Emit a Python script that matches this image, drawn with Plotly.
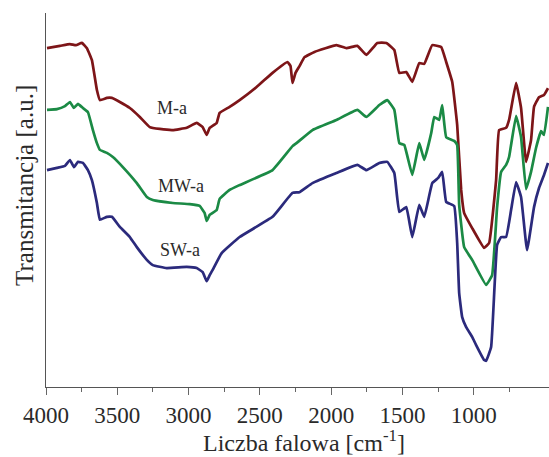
import plotly.graph_objects as go

# ---- data (wavenumber in cm-1, transmittance in a.u.) ----
wn_ma = [3993, 3902, 3832, 3790, 3748, 3713, 3678, 3643, 3622, 3573, 3538, 3482, 3412, 3342, 3272, 3202,
         3111, 3013, 2943, 2901, 2873, 2852, 2803, 2782, 2712, 2642, 2523, 2411, 2306, 2285, 2271, 2250,
         2222, 2187, 2117, 1963, 1893, 1816, 1753, 1676, 1613, 1557, 1522, 1473, 1431, 1382, 1347, 1291,
         1228, 1193, 1151, 1116, 1088, 1067, 1011, 927, 892, 843, 822, 773, 752, 703, 668, 633, 598, 577,
         542, 507, 479]
t_ma = [90.6, 91.2, 91.7, 91.4, 92.0, 90.6, 87.4, 79.4, 76.7, 77.3, 77.3, 76.2, 74.6, 72.2, 69.5, 69.0,
        68.7, 69.3, 70.6, 69.5, 67.4, 69.3, 70.6, 73.3, 74.9, 76.7, 80.2, 84.0, 86.9, 85.8, 81.3, 84.0,
        85.8, 88.2, 89.6, 91.4, 90.6, 91.2, 88.8, 92.0, 92.0, 90.1, 84.0, 84.2, 81.6, 86.6, 86.4, 91.4,
        90.9, 86.9, 81.6, 70.1, 52.7, 46.5, 42.5, 37.2, 38.5, 55.3, 68.7, 69.3, 71.4, 81.3, 74.6, 60.2,
        66.0, 74.9, 77.5, 78.1, 79.9]

wn_mw = [3993, 3923, 3867, 3832, 3804, 3776, 3741, 3706, 3671, 3643, 3622, 3573, 3531, 3461, 3363, 3293,
         3251, 3111, 2992, 2922, 2887, 2873, 2852, 2803, 2782, 2712, 2642, 2411, 2271, 2243, 2131, 1963,
         1816, 1753, 1662, 1606, 1557, 1522, 1487, 1431, 1382, 1347, 1298, 1277, 1242, 1221, 1193, 1137,
         1116, 1102, 1067, 1011, 913, 871, 836, 808, 773, 752, 703, 668, 633, 598, 563, 528, 507, 479]
t_mw = [74.1, 74.3, 75.1, 76.2, 74.6, 75.7, 74.6, 73.5, 68.7, 65.2, 63.4, 62.6, 61.5, 58.8, 54.5, 50.8,
        50.0, 49.2, 48.9, 48.4, 46.5, 44.4, 46.0, 47.3, 50.3, 52.7, 54.0, 58.0, 64.4, 65.2, 68.7, 71.4,
        74.1, 72.2, 75.4, 76.7, 74.1, 65.2, 64.7, 56.7, 65.2, 60.7, 67.9, 72.2, 71.4, 75.4, 66.8, 65.8,
        64.7, 48.7, 37.4, 34.0, 27.3, 29.9, 48.1, 57.5, 59.4, 61.5, 72.5, 66.8, 52.9, 57.5, 63.9, 68.4,
        67.4, 74.9]

wn_sw = [3993, 3923, 3867, 3832, 3804, 3776, 3741, 3706, 3678, 3643, 3622, 3573, 3538, 3482, 3412, 3363,
         3293, 3251, 3153, 3013, 2943, 2901, 2873, 2852, 2831, 2768, 2642, 2411, 2271, 2222, 2131, 1963,
         1816, 1753, 1662, 1606, 1557, 1522, 1473, 1431, 1382, 1347, 1291, 1249, 1221, 1193, 1137, 1116,
         1102, 1081, 1053, 1011, 983, 927, 913, 878, 836, 808, 773, 738, 703, 668, 626, 577, 542, 507, 479]
t_sw = [58.0, 58.6, 59.1, 60.7, 58.8, 60.2, 59.9, 58.0, 55.3, 49.2, 44.7, 45.5, 45.5, 42.8, 40.1, 37.4,
        34.0, 32.6, 31.8, 32.1, 31.8, 30.7, 28.3, 29.9, 31.3, 35.8, 40.1, 45.5, 51.9, 52.1, 54.5, 57.2,
        59.4, 58.0, 59.9, 60.2, 57.2, 46.8, 48.1, 40.1, 48.7, 45.5, 54.5, 55.9, 57.5, 49.5, 48.4, 38.5,
        25.1, 18.7, 16.0, 13.4, 11.2, 7.2, 7.0, 10.7, 38.0, 40.1, 40.1, 47.3, 54.8, 50.8, 36.6, 48.1,
        53.2, 56.7, 59.9]

series_names = ["M-a", "MW-a", "SW-a"]
label_wn = [3118, 3055, 3062]
label_t = [74.6, 53.7, 36.6]

major_ticks = [4000, 3500, 3000, 2500, 2000, 1500, 1000]
minor_ticks = [3750, 3250, 2750, 2250, 1750, 1250, 750]

colors = ["#7d1518", "#1b8a45", "#2b2a7c"]
FONT = "Liberation Serif"
TXT = "#2a2a2a"

fig = go.Figure()
for name, xs, ys, c in zip(series_names, [wn_ma, wn_mw, wn_sw], [t_ma, t_mw, t_sw], colors):
    fig.add_trace(go.Scatter(x=xs, y=ys, mode="lines", name=name,
                             line=dict(color=c, width=2.7, shape="spline", smoothing=0.3)))

for name, lx, ly in zip(series_names, label_wn, label_t):
    fig.add_annotation(x=lx, y=ly, text=name, showarrow=False,
                       font=dict(family=FONT, size=18, color=TXT))

fig.add_annotation(xref="paper", yref="paper", x=-0.044, y=0.54, text="Transmitancja [a.u.]",
                   textangle=-90, showarrow=False, xanchor="center", yanchor="middle",
                   font=dict(family=FONT, size=25, color=TXT))

fig.add_annotation(xref="paper", yref="paper", x=0.512, y=-0.145, text="Liczba falowa [cm<sup>-1</sup>]",
                   showarrow=False, xanchor="center", yanchor="middle",
                   font=dict(family=FONT, size=24, color=TXT))

fig.update_layout(
    width=549, height=457,
    margin=dict(l=46, r=0, t=13, b=70),
    paper_bgcolor="white", plot_bgcolor="white",
    showlegend=False,
    font=dict(family=FONT, color=TXT),
    xaxis=dict(range=[4000, 472], showgrid=False, zeroline=False,
               showline=True, linecolor="#555", linewidth=1,
               ticks="outside", ticklen=7, tickcolor="#666", tickwidth=1,
               tickvals=major_ticks, ticktext=[str(v) for v in major_ticks],
               tickfont=dict(family=FONT, size=23, color=TXT),
               minor=dict(tickvals=minor_ticks, ticks="outside", ticklen=4, tickcolor="#666")),
    yaxis=dict(range=[0, 100], showgrid=False, zeroline=False, showticklabels=False,
               showline=True, linecolor="#555", linewidth=1, ticks=""),
)

fig.write_html("out.html")
